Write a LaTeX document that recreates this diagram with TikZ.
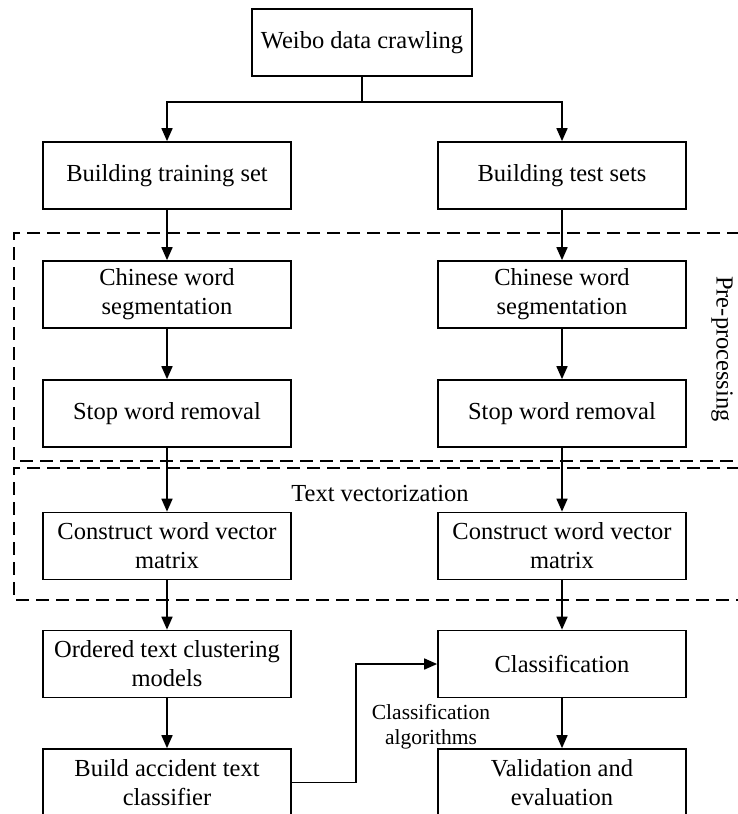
\documentclass[tikz,border=0pt]{standalone}
\usepackage{fontspec}
\setmainfont{Liberation Serif}
\usetikzlibrary{arrows.meta,positioning}
\begin{document}
\begin{tikzpicture}[x=1pt,y=-1pt,
  box/.style={draw,line width=1.7pt,minimum width=248pt,minimum height=67pt,align=center,inner sep=2pt,font=\fontsize{24.5}{29}\selectfont},
  arr/.style={line width=1.7pt,-{Triangle[length=13pt,width=11pt]}},
  ln/.style={line width=1.7pt},
  dbox/.style={line width=1.6pt,dash pattern=on 13pt off 7pt},
  lab/.style={font=\fontsize{24.5}{29}\selectfont},
  slab/.style={font=\fontsize{21.5}{25}\selectfont,align=center}]
\useasboundingbox (0,0) rectangle (737,814);
\node[box,minimum width=220pt] (weibo) at (362,42.5) {Weibo data crawling};
\node[box] (train) at (167,175.5) {Building training set};
\node[box] (test) at (562,175.5) {Building test sets};
\node[box] (segL) at (167,294.5) {Chinese word\\segmentation};
\node[box] (segR) at (562,294.5) {Chinese word\\segmentation};
\node[box] (stopL) at (167,413.5) {Stop word removal};
\node[box] (stopR) at (562,413.5) {Stop word removal};
\node[box] (vecL) at (167,546) {Construct word vector\\matrix};
\node[box] (vecR) at (562,546) {Construct word vector\\matrix};
\node[box] (clus) at (167,664) {Ordered text clustering\\models};
\node[box] (cls) at (562,664) {Classification};
\node[box] (build) at (167,782.5) {Build accident text\\classifier};
\node[box] (valid) at (562,782.5) {Validation and\\evaluation};
% dashed groups
\draw[dbox] (760,233) -- (14,233) -- (14,461) -- (760,461);
\draw[dbox] (760,468) -- (14,468) -- (14,600) -- (760,600);
\node[lab,rotate=-90] (pre) at (722,349) {Pre-processing};
\node[lab] (tv) at (380,494) {Text vectorization};
\node[slab] (alg) at (431,727) {Classification\\algorithms};
% connectors
\draw[ln] (weibo.south) -- ++(0,25) coordinate (split);
\draw[arr] (split) -| (train.north);
\draw[arr] (split) -| (test.north);
\draw[arr] (train) -- (segL);
\draw[arr] (test) -- (segR);
\draw[arr] (segL) -- (stopL);
\draw[arr] (segR) -- (stopR);
\draw[arr] (stopL) -- (vecL);
\draw[arr] (stopR) -- (vecR);
\draw[arr] (vecL) -- (clus);
\draw[arr] (vecR) -- (cls);
\draw[arr] (clus) -- (build);
\draw[arr] (cls) -- (valid);
\draw[ln] (build.east) -- ++(64,0) coordinate (turn);
\draw[arr] (turn) |- (cls.west);
\end{tikzpicture}
\end{document}
